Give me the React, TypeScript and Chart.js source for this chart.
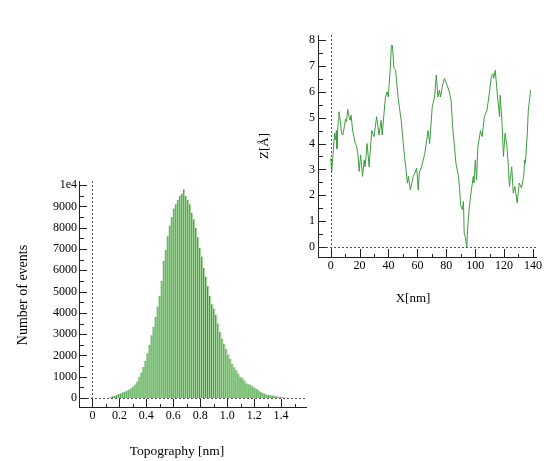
import React, { useEffect, useRef } from 'react';
import { Chart, registerables } from 'chart.js';

Chart.register(...registerables);

const FONT = "'Liberation Serif', 'Times New Roman', serif";

// Histogram: bin centres (nm) and counts
const histBins = [
  0.14, 0.155, 0.17, 0.185, 0.2, 0.215, 0.23, 0.245, 0.26, 0.275,
  0.29, 0.305, 0.32, 0.335, 0.35, 0.365, 0.38, 0.395, 0.41, 0.425,
  0.44, 0.455, 0.47, 0.485, 0.5, 0.515, 0.53, 0.545, 0.56, 0.575,
  0.59, 0.605, 0.62, 0.635, 0.65, 0.665, 0.68, 0.695, 0.71, 0.725,
  0.74, 0.755, 0.77, 0.785, 0.8, 0.815, 0.83, 0.845, 0.86, 0.875,
  0.89, 0.905, 0.92, 0.935, 0.95, 0.965, 0.98, 0.995, 1.01, 1.025,
  1.04, 1.055, 1.07, 1.085, 1.1, 1.115, 1.13, 1.145, 1.16, 1.175,
  1.19, 1.205, 1.22, 1.235, 1.25, 1.265, 1.28, 1.295, 1.31, 1.325,
  1.34, 1.355, 1.37, 1.385, 1.4, 1.415, 1.43, 1.445, 1.46, 1.475,
];
const histCounts = [
  60, 80, 100, 150, 190, 230, 270, 310, 360, 400,
  460, 540, 640, 780, 1000, 1200, 1460, 1750, 2100, 2500,
  2950, 3350, 3800, 4300, 4800, 5500, 6450, 6950, 7600, 8100,
  8500, 8900, 9100, 9300, 9500, 9600, 9800, 9500, 9300, 9100,
  8700, 8400, 8000, 7550, 7050, 6650, 6100, 5700, 5250, 4800,
  4400, 4200, 3900, 3500, 3100, 2800, 2550, 2300, 2050, 1850,
  1600, 1450, 1300, 1150, 1000, 950, 820, 700, 650, 620,
  560, 500, 430, 370, 300, 250, 210, 170, 140, 130,
  120, 100, 80, 60, 50, 40, 30, 25, 20, 15,
];
// Histogram y tick values (labelled)
const histYTicks = [0, 1000, 2000, 3000, 4000, 5000, 6000, 7000, 8000, 9000, 10000];

// Height profile: X [nm] and Z [Å]
const profileX = [
  0, 0.7, 2.7, 3.4, 3.9, 4.3, 5.2, 5.7, 6.6, 7.5,
  8.4, 9.5, 10.2, 10.9, 11.8, 12.7, 13.4, 14.1, 15.2, 17.0,
  17.9, 18.8, 19.7, 20.7, 22.0, 23.2, 23.8, 25.2, 26.6, 28.4,
  30.0, 31.8, 33.4, 34.9, 35.6, 37.9, 39.0, 39.9, 41.3, 42.0,
  42.7, 43.8, 44.9, 46.7, 48.8, 50.6, 52.4, 53.1, 53.8, 55.1,
  57.2, 58.3, 59.5, 60.6, 61.3, 62.9, 65.1, 67.4, 68.5, 70.3,
  71.9, 73.1, 74.2, 75.3, 76.0, 77.2, 78.7, 80.6, 82.1, 83.3,
  84.4, 86.7, 88.5, 90.1, 91.2, 91.9, 92.4, 93.3, 94.2, 94.9,
  96.0, 97.4, 98.7, 99.2, 100.1, 101.0, 101.9, 103.7, 104.8, 106.4,
  108.2, 109.8, 111.2, 112.3, 112.8, 113.9, 115.5, 116.9, 117.3, 118.5,
  119.6, 120.7, 121.9, 123.0, 123.7, 125.3, 126.4, 127.5, 129.1, 130.5,
  132.1, 133.6, 134.3, 134.8, 136.1, 136.8, 138.4,
];
const profileZ = [
  3.43, 2.92, 4.4, 4.14, 4.5, 3.8, 4.9, 5.23, 4.9, 4.4,
  4.33, 4.66, 4.94, 4.85, 5.32, 5.04, 4.9, 5.1, 4.5, 4.0,
  3.9, 3.6, 2.92, 3.56, 2.73, 3.37, 3.1, 4.0, 3.1, 4.5,
  4.27, 5.04, 4.33, 4.9, 4.33, 5.8, 6.0, 5.8, 6.97, 7.8,
  7.8, 6.9, 6.84, 5.75, 4.9, 3.76, 2.86, 2.47, 2.73, 2.21,
  2.73, 2.86, 3.05, 2.21, 2.86, 3.1, 3.6, 4.5, 4.0, 5.43,
  5.8, 6.65, 5.8, 6.07, 5.8, 6.2, 6.52, 6.26, 6.0, 5.69,
  4.66, 3.24, 2.73, 1.57, 1.44, 1.76, 0.54, 0.35, 0.0, 0.8,
  1.57, 2.21, 2.73, 2.47, 3.37, 2.6, 3.88, 4.5, 4.27, 5.04,
  5.3, 5.94, 6.6, 6.7, 6.52, 6.84, 5.8, 5.04, 5.87, 4.9,
  3.5, 4.4, 3.95, 3.1, 2.34, 3.1, 2.08, 2.34, 1.7, 2.47,
  2.28, 2.73, 3.37, 3.24, 4.4, 5.3, 6.07,
];

type Title = { text: string; x: number; y: number; size: number; rotate?: boolean };

function decorPlugin(xMinor: number, yMinor: number, titles: Title[]) {
  return {
    id: 'decor',
    afterDatasetsDraw(chart: any) {
      const { ctx, chartArea } = chart;
      const xs = chart.scales.x;
      const ys = chart.scales.y;
      ctx.save();
      // dotted zero lines
      ctx.strokeStyle = '#555';
      ctx.lineWidth = 1;
      ctx.setLineDash([2, 2]);
      const x0 = Math.round(xs.getPixelForValue(0)) + 0.5;
      const y0 = Math.round(ys.getPixelForValue(0)) + 0.5;
      ctx.beginPath();
      ctx.moveTo(x0, chartArea.top);
      ctx.lineTo(x0, chartArea.bottom);
      ctx.moveTo(chartArea.left, y0);
      ctx.lineTo(chartArea.right, y0);
      ctx.stroke();
      ctx.restore();
    },
    afterDraw(chart: any) {
      const { ctx, chartArea } = chart;
      const xs = chart.scales.x;
      const ys = chart.scales.y;
      ctx.save();
      ctx.fillStyle = '#222';
      const axX = Math.round(chartArea.left);
      const axY = Math.round(chartArea.bottom);
      // y ticks (inward)
      const yStart = Math.ceil(ys.min / yMinor) * yMinor;
      for (let k = 0; yStart + k * yMinor <= ys.max; k++) {
        const v = yStart + k * yMinor;
        const major = Math.abs(v / (yMinor * 2) - Math.round(v / (yMinor * 2))) < 1e-6;
        const py = Math.round(ys.getPixelForValue(v));
        ctx.fillRect(axX + 1, py, major ? 7 : 4, 1);
      }
      const xStart = Math.ceil(xs.min / xMinor - 1e-9) * xMinor;
      for (let k = 0; xStart + k * xMinor <= xs.max; k++) {
        const v = xStart + k * xMinor;
        if (v <= xs.min + 1e-9) continue;
        const major = Math.abs(v / (xMinor * 2) - Math.round(v / (xMinor * 2))) < 1e-6;
        const px = Math.round(xs.getPixelForValue(v));
        const len = major ? 8 : 3;
        ctx.fillRect(px, axY - len, 1, len);
      }
      ctx.fillStyle = '#000';
      titles.forEach((t) => {
        ctx.save();
        ctx.font = `${t.size}px ${FONT}`;
        ctx.textAlign = 'center';
        ctx.textBaseline = 'middle';
        ctx.translate(t.x, t.y);
        if (t.rotate) ctx.rotate(-Math.PI / 2);
        ctx.fillText(t.text, 0, 0);
        ctx.restore();
      });
      ctx.restore();
    },
  };
}

function axisCommon(extra: any) {
  return {
    type: 'linear',
    offset: false,
    grid: { display: false, drawTicks: false, offset: false },
    border: { display: true, color: '#222', width: 1 },
    ...extra,
  };
}

export default function App() {
  const histRef = useRef<HTMLCanvasElement>(null);
  const lineRef = useRef<HTMLCanvasElement>(null);

  useEffect(() => {
    const tickFont = { family: FONT, size: 12 };
    const hist = new Chart(histRef.current as HTMLCanvasElement, {
      type: 'bar',
      data: {
        datasets: [
          {
            data: histBins.map((x, i) => ({ x, y: histCounts[i] })),
            backgroundColor: '#a8d8a0',
            borderColor: '#3a9a3a',
            borderWidth: { left: 1, right: 0, top: 0, bottom: 0 },
            barPercentage: 1,
            categoryPercentage: 1,
          } as any,
        ],
      },
      options: {
        responsive: false,
        animation: false,
        events: [],
        layout: { padding: { left: 0, top: 181, right: 238, bottom: 0 } },
        plugins: { legend: { display: false }, tooltip: { enabled: false } },
        scales: {
          x: axisCommon({
            min: -0.1,
            max: 1.585,
            ticks: { stepSize: 0.2, maxTicksLimit: 40, includeBounds: false, padding: 2, color: '#000', font: tickFont, maxRotation: 0, autoSkip: false },
            afterFit: (s: any) => { s.height = 54; },
          }),
          y: axisCommon({
            min: -420,
            max: 10190,
            afterBuildTicks: (s: any) => { s.ticks = histYTicks.map((v) => ({ value: v })); },
            ticks: {
              padding: 2, color: '#000', font: tickFont, autoSkip: false,
              callback: (v: any) => (v === 10000 ? '1e4' : String(v)),
            },
            afterFit: (s: any) => { s.width = 79; },
          }),
        },
      } as any,
      plugins: [
        decorPlugin(0.1, 500, [
          { text: 'Number of events', x: 23, y: 295, size: 14, rotate: true },
          { text: 'Topography [nm]', x: 177, y: 451, size: 13.5 },
        ]),
      ],
    });

    const line = new Chart(lineRef.current as HTMLCanvasElement, {
      type: 'line',
      data: {
        datasets: [
          {
            data: profileX.map((x, i) => ({ x, y: profileZ[i] })),
            borderColor: '#3c9e3c',
            borderWidth: 1,
            pointRadius: 0,
            tension: 0,
            fill: false,
          },
        ],
      },
      options: {
        responsive: false,
        animation: false,
        events: [],
        layout: { padding: { left: 268, top: 35, right: 4, bottom: 150 } },
        plugins: { legend: { display: false }, tooltip: { enabled: false } },
        scales: {
          x: axisCommon({
            min: -8.8,
            max: 142.3,
            ticks: { stepSize: 20, maxTicksLimit: 40, includeBounds: false, padding: 2, color: '#000', font: tickFont, maxRotation: 0, autoSkip: false },
            afterFit: (s: any) => { s.height = 54; },
          }),
          y: axisCommon({
            min: -0.39,
            max: 8.2,
            ticks: { stepSize: 1, maxTicksLimit: 40, includeBounds: false, padding: 3, color: '#000', font: tickFont, autoSkip: false },
            afterFit: (s: any) => { s.width = 50; },
          }),
        },
      } as any,
      plugins: [
        decorPlugin(10, 0.5, [
          { text: 'Z[Å]', x: 265, y: 146, size: 13, rotate: true },
          { text: 'X[nm]', x: 413, y: 299, size: 13 },
        ]),
      ],
    });

    return () => {
      hist.destroy();
      line.destroy();
    };
  }, []);

  const canvasStyle: React.CSSProperties = { position: 'absolute', left: 0, top: 0 };
  return (
    <div style={{ position: 'absolute', left: 0, top: 0, width: 544, height: 461, background: '#fff' }}>
      <canvas ref={histRef} width={544} height={461} style={canvasStyle} />
      <canvas ref={lineRef} width={544} height={461} style={canvasStyle} />
    </div>
  );
}
